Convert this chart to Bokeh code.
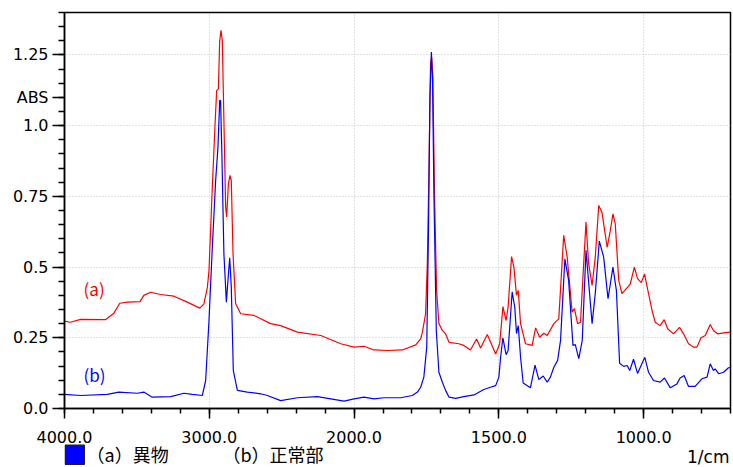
import numpy as np
from bokeh.plotting import figure
from bokeh.layouts import column
from bokeh.models import Range1d, FixedTicker, Label
from bokeh.core.properties import value
from bokeh.embed import file_html
from bokeh.resources import INLINE

# ---- data (wavenumber in 1/cm, absorbance) ----
wn_a = [4000, 3959, 3889, 3717, 3659, 3618, 3567, 3479, 3452, 3405, 3336, 3244, 3152, 3065, 3037, 3013, 3002,
        2979, 2961, 2949, 2937, 2928, 2919, 2910, 2899, 2887, 2880, 2868, 2857, 2848, 2836, 2818, 2783, 2691,
        2576, 2507, 2391, 2230, 2092, 2000, 1966, 1931, 1885, 1833, 1787, 1770, 1764, 1753, 1747, 1741, 1736,
        1732, 1728, 1722, 1715, 1707, 1695, 1684, 1672, 1638, 1621, 1598, 1577, 1563, 1540, 1511, 1497, 1486,
        1475, 1468, 1456, 1448, 1439, 1433, 1425, 1408, 1385, 1373, 1359, 1345, 1333, 1310, 1293, 1276, 1264,
        1247, 1239, 1228, 1218, 1209, 1199, 1190, 1178, 1167, 1155, 1144, 1126, 1115, 1106, 1098, 1086, 1075,
        1055, 1046, 1032, 1021, 1008, 997, 983, 971, 960, 943, 929, 917, 897, 876, 862, 845, 828, 816, 802, 787,
        770, 759, 745, 718, 700]
abs_a = [0.309, 0.305, 0.315, 0.314, 0.337, 0.372, 0.376, 0.378, 0.400, 0.411, 0.403, 0.397, 0.376, 0.355, 0.370,
         0.429, 0.488, 0.783, 0.995, 1.124, 1.130, 1.301, 1.337, 1.301, 1.018, 0.712, 0.677, 0.795, 0.824, 0.806,
         0.547, 0.370, 0.335, 0.329, 0.300, 0.293, 0.270, 0.258, 0.229, 0.217, 0.220, 0.207, 0.205, 0.207, 0.225,
         0.246, 0.270, 0.335, 0.512, 0.865, 1.219, 1.242, 1.172, 0.747, 0.417, 0.300, 0.276, 0.264, 0.234, 0.229,
         0.223, 0.207, 0.246, 0.214, 0.262, 0.193, 0.229, 0.360, 0.311, 0.358, 0.537, 0.500, 0.400, 0.417, 0.300,
         0.229, 0.223, 0.285, 0.252, 0.266, 0.258, 0.300, 0.317, 0.612, 0.535, 0.341, 0.353, 0.300, 0.305, 0.476,
         0.659, 0.512, 0.435, 0.535, 0.718, 0.694, 0.570, 0.629, 0.688, 0.653, 0.453, 0.406, 0.429, 0.441, 0.500,
         0.459, 0.445, 0.476, 0.406, 0.347, 0.305, 0.293, 0.314, 0.282, 0.264, 0.287, 0.264, 0.229, 0.217, 0.217,
         0.250, 0.258, 0.297, 0.276, 0.264, 0.268, 0.270]

wn_b = [4000, 3889, 3705, 3625, 3497, 3452, 3394, 3267, 3175, 3117, 3048, 3025, 3002, 2979, 2956, 2940, 2928,
        2922, 2913, 2899, 2882, 2871, 2859, 2848, 2834, 2806, 2737, 2645, 2599, 2507, 2391, 2253, 2161, 2069,
        2000, 1966, 1931, 1897, 1839, 1799, 1781, 1770, 1759, 1749, 1743, 1738, 1733, 1729, 1724, 1716, 1707,
        1695, 1684, 1672, 1649, 1621, 1586, 1552, 1529, 1511, 1500, 1494, 1486, 1475, 1468, 1454, 1445, 1439,
        1433, 1425, 1416, 1391, 1375, 1362, 1347, 1333, 1322, 1310, 1297, 1287, 1272, 1259, 1244, 1236, 1224,
        1212, 1199, 1178, 1167, 1153, 1138, 1123, 1106, 1094, 1083, 1069, 1057, 1048, 1035, 1021, 996, 983, 966,
        943, 928, 908, 885, 874, 860, 845, 822, 799, 781, 770, 759, 753, 741, 724, 707, 700]
abs_b = [0.050, 0.046, 0.050, 0.058, 0.054, 0.058, 0.040, 0.042, 0.054, 0.050, 0.046, 0.099, 0.311, 0.570, 0.806,
         0.924, 1.089, 1.089, 0.901, 0.547, 0.376, 0.453, 0.533, 0.429, 0.134, 0.064, 0.058, 0.052, 0.046, 0.028,
         0.038, 0.042, 0.034, 0.026, 0.034, 0.040, 0.034, 0.038, 0.038, 0.046, 0.058, 0.075, 0.111, 0.217, 0.629,
         1.101, 1.260, 1.160, 0.747, 0.276, 0.128, 0.093, 0.064, 0.040, 0.036, 0.042, 0.048, 0.067, 0.075, 0.081,
         0.111, 0.181, 0.250, 0.190, 0.205, 0.412, 0.358, 0.265, 0.293, 0.181, 0.090, 0.073, 0.153, 0.102, 0.115,
         0.093, 0.111, 0.146, 0.170, 0.240, 0.529, 0.453, 0.223, 0.226, 0.176, 0.240, 0.559, 0.300, 0.406, 0.592,
         0.535, 0.388, 0.500, 0.417, 0.160, 0.149, 0.152, 0.134, 0.174, 0.124, 0.181, 0.128, 0.099, 0.093, 0.108,
         0.073, 0.087, 0.108, 0.117, 0.078, 0.078, 0.105, 0.111, 0.158, 0.134, 0.140, 0.123, 0.128, 0.144, 0.145]

x_ticks_wn = [4000, 3000, 2000, 1500, 1000]
x_tick_labels = ["4000.0", "3000.0", "2000.0", "1500.0", "1000.0"]
y_ticks = [0.0, 0.25, 0.5, 0.75, 1.0, 1.25]
y_tick_labels = ["0.0", "0.25", "0.5", "0.75", "1.0", "1.25"]
y_unit_pos = 1.1
y_unit_label = "ABS"
x_unit_label = "1/cm"
series_names = ["（a）異物", "（b）正常部"]
series_colors = ["#ff0000", "#0000ff"]
curve_tags = ["(a)", "(b)"]


def split_scale(wn):
    """FT-IR split axis: the range above 2000 1/cm is shown at half scale."""
    wn = np.asarray(wn, dtype=float)
    return np.where(wn > 2000, 2000 + (wn - 2000) / 2.0, wn)


NUM_FONT = "DejaVu Sans"
JP_FONT = "Noto Sans CJK JP"
W = 732
BL, BR = 64, 2          # left / right borders of the plotting frame

p = figure(width=W, height=452, output_backend="svg", toolbar_location=None,
           x_range=Range1d(float(split_scale(4000)), float(split_scale(700))),
           y_range=Range1d(0, 1.4),
           min_border_left=BL, min_border_right=BR, min_border_top=12, min_border_bottom=44)
p.background_fill_color = "white"
p.border_fill_color = "white"
p.outline_line_color = "black"
p.outline_line_width = 1.5

# curves
p.line(split_scale(wn_a), abs_a, line_color=series_colors[0], line_width=1.2)
p.line(split_scale(wn_b), abs_b, line_color=series_colors[1], line_width=1.2)

# x axis
minor_wn = list(range(4000, 2000, -200)) + list(range(2000, 699, -100))
xt = [float(v) for v in split_scale(x_ticks_wn)]
p.xaxis.ticker = FixedTicker(ticks=xt, minor_ticks=[float(v) for v in split_scale(minor_wn)])
p.xaxis.major_label_overrides = {k: lab for k, lab in zip(xt, x_tick_labels)}
p.xaxis.major_tick_out = 10
p.xaxis.major_tick_in = 0
p.xaxis.minor_tick_out = 5
p.xaxis.minor_tick_in = 0
p.xaxis.major_label_standoff = 12

# y axis (the unit "ABS" sits at its own tick)
yt = y_ticks + [y_unit_pos]
ylabels = dict(zip(y_ticks, y_tick_labels))
ylabels[y_unit_pos] = y_unit_label
p.yaxis.ticker = FixedTicker(ticks=yt, minor_ticks=[round(i * 0.05, 2) for i in range(0, 29)])
p.yaxis.major_label_overrides = ylabels
p.yaxis.major_tick_out = 12
p.yaxis.major_tick_in = 0
p.yaxis.minor_tick_out = 6
p.yaxis.minor_tick_in = 0
p.yaxis.major_label_standoff = 4

for ax in (p.xaxis, p.yaxis):
    ax.axis_line_color = "black"
    ax.axis_line_width = 1.5
    ax.major_tick_line_color = "black"
    ax.minor_tick_line_color = "black"
    ax.major_tick_line_width = 1.5
    ax.minor_tick_line_width = 1.5
    ax.major_label_text_font = NUM_FONT
    ax.major_label_text_font_size = "16px"
    ax.major_label_text_color = "black"

# grids
p.xgrid.ticker = FixedTicker(ticks=xt[1:])
p.ygrid.ticker = FixedTicker(ticks=y_ticks[1:])
for g in (p.xgrid, p.ygrid):
    g.grid_line_color = "#c4c4c4"
    g.grid_line_dash = "1 2"
    g.grid_line_width = 1

# curve tags
for tag, col, yv in zip(curve_tags, series_colors, [0.424, 0.120]):
    p.add_layout(Label(x=float(split_scale(3868)), y=yv, text=tag, text_font=JP_FONT,
                       text_font_size="17px", text_color=col, text_align="left", text_baseline="middle"))

# footer strip (legend + unit): transparent, overlapping the bottom of the main figure;
# its frame is aligned with the main frame and x is in page pixels, y in pixels from its top
FH, OVERLAP = 35, 20
TOP = 452 - OVERLAP      # page y of the footer's top edge
f = figure(width=W, height=FH, output_backend="svg", toolbar_location=None,
           x_range=Range1d(BL, W - BR), y_range=Range1d(FH, 0),
           x_axis_type=None, y_axis_type=None,
           min_border_left=BL, min_border_right=BR, min_border_top=0, min_border_bottom=0)
f.grid.visible = False
f.outline_line_color = None
f.background_fill_alpha = 0
f.border_fill_alpha = 0
f.margin = (-OVERLAP, 0, 0, 0)

f.quad(left=[64.5], right=[84], top=[444.5 - TOP], bottom=[464 - TOP], fill_color=series_colors[1],
       line_color="#202020", line_width=1)
f.text(x=[86, 222], y=[453 - TOP, 453 - TOP], text=series_names, text_font=value(JP_FONT),
       text_font_size="18px", text_baseline="middle", text_align="left", text_color="black")
f.text(x=[729], y=[456.5 - TOP], text=[x_unit_label], text_font=value(NUM_FONT), text_font_size="17px",
       text_baseline="middle", text_align="right", text_color="black")

layout = column(p, f, spacing=0)
open("out.html", "w").write(file_html(layout, INLINE))
